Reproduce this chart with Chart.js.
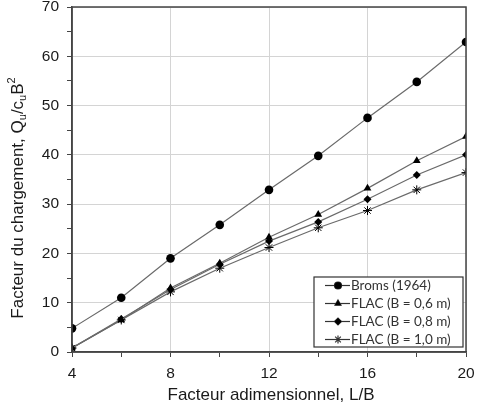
<!DOCTYPE html>
<html><head><meta charset="utf-8">
<script src="https://cdn.jsdelivr.net/npm/chart.js@4/dist/chart.umd.min.js"></script>
<style>html,body{margin:0;padding:0;background:#fff}#wrap{width:479px;height:408px}</style>
</head><body><div id="wrap"><canvas id="c" width="479" height="408"></canvas></div>
<script>
const ratioLB = [4, 6, 8, 10, 12, 14, 16, 18, 20];
const broms = [4.8, 11.0, 19.0, 25.8, 32.9, 39.8, 47.5, 54.8, 62.9];
const flac06 = [0.8, 6.5, 13.0, 18.0, 23.3, 27.9, 33.2, 38.8, 43.7];
const flac08 = [0.8, 6.7, 12.7, 17.8, 22.5, 26.4, 31.0, 35.9, 40.0];
const flac10 = [0.8, 6.5, 12.2, 17.0, 21.2, 25.2, 28.7, 32.9, 36.4];
const seriesLabels = ['Broms (1964)', 'FLAC (B = 0,6 m)', 'FLAC (B = 0,8 m)', 'FLAC (B = 1,0 m)'];
const xTitle = 'Facteur adimensionnel, L/B';

const pts = arr => arr.map((v, i) => ({x: ratioLB[i], y: v}));
const styles = [
  {pointStyle: 'circle', r: 4.3},
  {pointStyle: 'triangle', r: 4.5},
  {pointStyle: 'rectRot', r: 4},
  {pointStyle: 'star', r: 4.5}
];
const datasets = [broms, flac06, flac08, flac10].map((d, i) => ({
  label: seriesLabels[i],
  data: pts(d),
  borderColor: '#6a6a6a',
  borderWidth: 1.2,
  pointStyle: styles[i].pointStyle,
  pointRadius: styles[i].r,
  pointBackgroundColor: '#000',
  pointBorderColor: '#000',
  pointBorderWidth: styles[i].pointStyle === 'star' ? 1 : 0,
  tension: 0
}));

const frame = {
  id: 'frame',
  afterDraw(chart) {
    const {ctx, chartArea: a} = chart;
    ctx.save();
    ctx.strokeStyle = '#444';
    ctx.lineWidth = 1.5;
    ctx.strokeRect(a.left, a.top, a.right - a.left, a.bottom - a.top);
    // y title with sub/superscripts
    ctx.translate(18, 198);
    ctx.rotate(-Math.PI / 2);
    ctx.fillStyle = '#1a1a1a';
    const parts = [
      ['Facteur du chargement, Q', 0, 17],
      ['u', 4.5, 11],
      ['/c', 0, 17],
      ['u', 4.5, 11],
      ['B', 0, 17],
      ['2', -6.5, 11]
    ];
    let total = 0;
    parts.forEach(p => { ctx.font = p[2] + 'px "Liberation Sans", Arial'; total += ctx.measureText(p[0]).width; });
    let x = -total / 2;
    ctx.textBaseline = 'middle';
    parts.forEach(p => {
      ctx.font = p[2] + 'px "Liberation Sans", Arial';
      ctx.fillText(p[0], x, p[1]);
      x += ctx.measureText(p[0]).width;
    });
    ctx.restore();
    // x title
    ctx.save();
    ctx.fillStyle = '#1a1a1a';
    ctx.font = '17px "Liberation Sans", Arial';
    ctx.textAlign = 'center';
    ctx.textBaseline = 'middle';
    ctx.fillText(xTitle, 271, 395);
    ctx.restore();
    // legend
    ctx.save();
    const lx = 314, ly = 277, lw = 149, lh = 70;
    ctx.fillStyle = '#fff';
    ctx.fillRect(lx, ly, lw, lh);
    ctx.strokeStyle = '#333';
    ctx.lineWidth = 1.2;
    ctx.strokeRect(lx, ly, lw, lh);
    chart.data.datasets.forEach((ds, i) => {
      const y = 285.5 + i * 18;
      ctx.strokeStyle = '#333';
      ctx.lineWidth = 1.2;
      ctx.beginPath(); ctx.moveTo(325, y); ctx.lineTo(350, y); ctx.stroke();
      Chart.helpers.drawPoint(ctx, {pointStyle: ds.pointStyle, radius: ds.pointStyle === 'star' ? 4 : 3.5, borderWidth: 1, rotation: 0}, 338, y);
      ctx.fillStyle = '#000';
      ctx.strokeStyle = '#000';
      ctx.fill();
      ctx.fillStyle = '#333';
      ctx.font = '13.5px Lato, sans-serif';
      ctx.textBaseline = 'middle';
      ctx.textAlign = 'left';
      ctx.fillText(ds.label, 351, y + 0.5);
    });
    ctx.restore();
  }
};

new Chart(document.getElementById('c'), {
  type: 'line',
  data: {datasets},
  plugins: [frame],
  options: {
    responsive: false,
    animation: false,
    layout: {padding: {left: 0, top: 7, right: 13, bottom: 0}},
    plugins: {legend: {display: false}, tooltip: {enabled: false}},
    scales: {
      x: {
        type: 'linear', min: 4, max: 20,
        afterFit: s => { s.height = 56; s.paddingLeft = 0; s.paddingRight = 0; },
        ticks: {stepSize: 2, color: '#1a1a1a', font: {size: 15.5, family: '"Liberation Sans", Arial'}, padding: 7,
          callback: v => (v % 4 === 0 ? v : '')},
        grid: {color: c => (c.tick && c.tick.value % 4 === 0 ? '#d4d4d4' : 'rgba(0,0,0,0)'), tickColor: '#444', tickLength: 5, drawTicks: true},
        border: {color: '#444', width: 1.5}
      },
      y: {
        min: 0, max: 70,
        afterFit: s => { s.width = 72; s.paddingTop = 0; s.paddingBottom = 0; },
        ticks: {stepSize: 5, color: '#1a1a1a', font: {size: 15.5, family: '"Liberation Sans", Arial'}, padding: 8,
          callback: v => (v % 10 === 0 ? v : '')},
        grid: {color: c => (c.tick && c.tick.value % 10 === 0 ? '#d4d4d4' : 'rgba(0,0,0,0)'), tickColor: '#444', tickLength: 5},
        border: {color: '#444', width: 1.5}
      }
    }
  }
});
</script></body></html>
